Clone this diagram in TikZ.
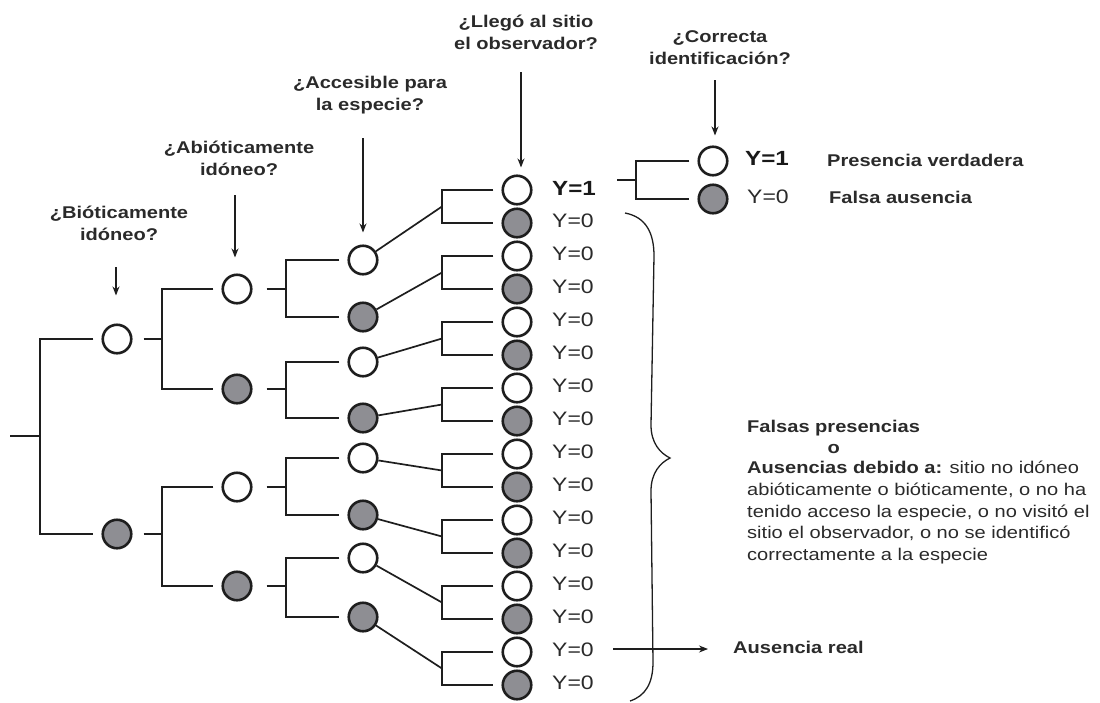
\documentclass[tikz,border=0pt]{standalone}
\usepackage{fontspec}
\setmainfont[FakeStretch=1.18]{Liberation Sans}
\usetikzlibrary{positioning,arrows.meta,calc}

\definecolor{dotgray}{RGB}{142,142,147}
\definecolor{dotline}{RGB}{30,30,30}
\definecolor{txtgray}{RGB}{42,42,42}

\begin{document}
\begin{tikzpicture}[x=1pt, y=-1pt,
        font=\fontsize{17}{22}\selectfont, text=txtgray,
        whitedot/.style={circle, draw=dotline, line width=2.6pt, fill=white, minimum size=28.5pt, inner sep=0pt},
        graydot/.style={whitedot, fill=dotgray},
        line/.style={draw=dotline, line width=2.1pt},
        link/.style={draw=dotline, line width=1.7pt},
        pointer/.style={-{Stealth[length=9pt, width=7pt]}, draw=dotline, line width=1.2pt},
        question/.style={align=center, inner sep=0pt, font=\bfseries\fontsize{17}{22}\selectfont},
        yval/.style={anchor=west, inner sep=0pt, font=\fontsize{19.5}{22}\selectfont},
        yone/.style={yval, font=\bfseries\fontsize{20.5}{22}\selectfont, text=black!90},
        outcome/.style={anchor=west, inner sep=0pt, font=\bfseries\fontsize{17}{22}\selectfont}
    ]
    \useasboundingbox (0,0) rectangle (1100,702);

    % spines of the brackets
    \coordinate (s1) at (40,0);
    \coordinate (s2) at (162,0);
    \coordinate (s3) at (286,0);
    \coordinate (s4) at (442,0);
    \coordinate (s5) at (636,0);

    % observer column
    \foreach \i in {0,...,15} {
        \pgfmathsetmacro\yy{190+33*\i}
        \ifodd\i \def\dotstyle{graydot}\else\def\dotstyle{whitedot}\fi
        \node[\dotstyle] (d\i) at (517,\yy) {};
    }
    \node[yone] (y0) at (552,188) {Y=1};
    \foreach \i in {1,...,15} {
        \node[yval] (y\i) at ($(d\i)+(35,-2)$) {Y=0};
    }

    % accessible for the species
    \foreach \yy [count=\k from 0] in {260,317,362,418,458,515,558,617} {
        \pgfmathtruncatemacro\a{2*\k}
        \pgfmathtruncatemacro\b{2*\k+1}
        \ifodd\k \def\dotstyle{graydot}\else\def\dotstyle{whitedot}\fi
        \node[\dotstyle] (c\k) at (363,\yy) {};
        \draw[line] ([xshift=-8pt]d\a.west) -| (s4 |- d\b) -- ([xshift=-8pt]d\b.west);
        \draw[link] (c\k) -- ($(s4 |- d\a)!0.5!(s4 |- d\b)$);
    }

    % abiotically suitable
    \foreach \yy [count=\k from 0] in {289,389,487,586} {
        \pgfmathtruncatemacro\a{2*\k}
        \pgfmathtruncatemacro\b{2*\k+1}
        \ifodd\k \def\dotstyle{graydot}\else\def\dotstyle{whitedot}\fi
        \node[\dotstyle] (b\k) at (237,\yy) {};
        \draw[line] ([xshift=14pt]b\k.east) -- (s3 |- b\k);
        \draw[line] ([xshift=-8pt]c\a.west) -| (s3 |- c\b) -- ([xshift=-8pt]c\b.west);
    }

    % biotically suitable
    \foreach \yy [count=\k from 0] in {339,534} {
        \pgfmathtruncatemacro\a{2*\k}
        \pgfmathtruncatemacro\b{2*\k+1}
        \ifodd\k \def\dotstyle{graydot}\else\def\dotstyle{whitedot}\fi
        \node[\dotstyle] (a\k) at (117,\yy) {};
        \draw[line] ([xshift=11pt]a\k.east) -- (s2 |- a\k);
        \draw[line] ([xshift=-8pt]b\a.west) -| (s2 |- b\b) -- ([xshift=-8pt]b\b.west);
    }

    \coordinate (root) at (10,436);
    \draw[line] (root) -- (s1 |- root);
    \draw[line] ([xshift=-8pt]a0.west) -| (s1 |- a1) -- ([xshift=-8pt]a1.west);

    % questions
    \node[question] (qbio) at (119,223) {¿Bióticamente\\idóneo?};
    \node[question] (qabio) at (239,158) {¿Abióticamente\\idóneo?};
    \node[question] (qacc) at (370,95) {¿Accesible para\\la especie?};
    \node[question] (qobs) at (526,32) {¿Llegó al sitio\\el observador?};
    \node[question] (qid) at (720,48) {¿Correcta\\identificación?};

    \coordinate (tbio) at (116,267);
    \coordinate (tabio) at (235,195);
    \coordinate (tacc) at (363,138);
    \coordinate (tobs) at (521,72);
    \coordinate (tid) at (715,80);

    % identification
    \node[whitedot] (e1) at (713,161) {};
    \node[graydot] (e2) at (713,199) {};
    \coordinate (fin) at (617,180);
    \draw[line] (fin) -- (s5 |- fin);
    \draw[line] ([xshift=-8pt]e1.west) -| (s5 |- e2) -- ([xshift=-8pt]e2.west);

    \draw[pointer, shorten >=28pt] (tbio) -- (tbio |- a0.north);
    \draw[pointer, shorten >=16pt] (tabio) -- (tabio |- b0.north);
    \draw[pointer, shorten >=12pt] (tacc) -- (tacc |- c0.north);
    \draw[pointer, shorten >=7pt] (tobs) -- (tobs |- d0.north);
    \draw[pointer, shorten >=10pt] (tid) -- (tid |- e1.north);

    \node[yone] (ey1) at (745,158) {Y=1};
    \node[yval] (ey0) at (747,197) {Y=0};
    \node[outcome] (pv) at (827,160) {Presencia verdadera};
    \node[outcome] (fa) at (829,197) {Falsa ausencia};

    % brace
    \draw[line width=1.3pt, dotline] (625,213) .. controls (646,217) and (654,233) .. (654,256)
        -- (651,425) .. controls (651,443) and (660,453) .. (670,458)
        .. controls (660,463) and (651,473) .. (651,491)
        -- (653,662) .. controls (653,684) and (645,696) .. (630,701);

    \node[outcome] (areal) at (733,647) {Ausencia real};
    \coordinate (ar) at (613,649);
    \draw[pointer, shorten >=25pt] (ar) -- (ar -| areal.west);

    \node[anchor=base west, inner sep=0pt, font=\bfseries\fontsize{17}{22}\selectfont] (falsas) at (747,432) {Falsas presencias};
    \node[anchor=base, inner sep=0pt, font=\bfseries\fontsize{17}{22}\selectfont] (ofalsas) at ([yshift=-21pt]falsas.base) {o};
    \node[anchor=north west, align=left, inner sep=0pt, font=\fontsize{17}{21.7}\selectfont] (expl) at (747,461)
        {\textbf{Ausencias debido a:} sitio no idóneo\\abióticamente o bióticamente, o no ha\\tenido acceso la especie, o no visitó el\\sitio el observador, o no se identificó\\correctamente a la especie};
\end{tikzpicture}
\end{document}
